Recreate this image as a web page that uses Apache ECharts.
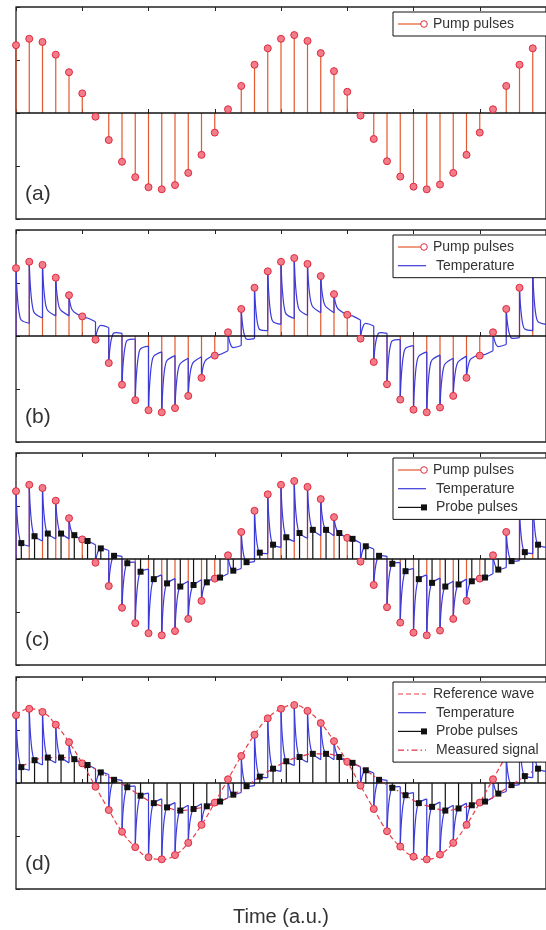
<!DOCTYPE html>
<html>
<head>
<meta charset="utf-8">
<script src="https://cdn.jsdelivr.net/npm/echarts@6/dist/echarts.min.js"></script>
<style>
  html, body { margin: 0; padding: 0; background: #fff; }
  #chart { width: 546px; height: 930px; }
</style>
</head>
<body>
<div id="chart"></div>
<script>
// pump pulse heights, one per period n = 0..39
const pumpVals = [1.28, 1.40, 1.34, 1.10, 0.77, 0.37, -0.07, -0.51, -0.92, -1.21,
  -1.40, -1.44, -1.36, -1.13, -0.79, -0.37, 0.07, 0.51, 0.91, 1.22,
  1.40, 1.47, 1.36, 1.13, 0.79, 0.40, -0.05, -0.49, -0.91, -1.20,
  -1.39, -1.44, -1.35, -1.13, -0.79, -0.37, 0.07, 0.51, 0.91, 1.22]
// probe pulse heights (temperature sampled probeDelay after each pump)
const probeDelay = 0.4
const probeVals = [0.30, 0.43, 0.48, 0.48, 0.45, 0.34, 0.20, 0.06, -0.08, -0.24,
  -0.38, -0.46, -0.52, -0.49, -0.44, -0.35, -0.22, -0.06, 0.12, 0.27,
  0.41, 0.49, 0.55, 0.55, 0.49, 0.38, 0.24, 0.06, -0.09, -0.23,
  -0.38, -0.45, -0.52, -0.48, -0.42, -0.35, -0.20, -0.04, 0.13, 0.27]
// temperature just before each pump (n = 0..40)
const tempBefore = [0, 0.24, 0.34, 0.38, 0.38, 0.36, 0.27, 0.16, 0.05, -0.06,
  -0.19, -0.30, -0.37, -0.42, -0.39, -0.35, -0.28, -0.18, -0.05, 0.10,
  0.22, 0.33, 0.39, 0.44, 0.44, 0.39, 0.30, 0.19, 0.05, -0.07,
  -0.18, -0.30, -0.36, -0.42, -0.38, -0.34, -0.28, -0.16, -0.03, 0.10, 0.22]
// temperature during the fast decay after each pump, at 0.06, 0.15 and 0.25 periods
const tempA = [0.92, 1.04, 1.02, 0.87, 0.65, 0.36, 0.03, -0.30, -0.61, -0.85,
  -1.02, -1.08, -1.05, -0.89, -0.66, -0.36, -0.04, 0.30, 0.62, 0.87,
  1.03, 1.11, 1.06, 0.92, 0.68, 0.39, 0.06, -0.29, -0.61, -0.84,
  -1.02, -1.07, -1.04, -0.89, -0.65, -0.36, -0.03, 0.31, 0.62, 0.87]
const tempB = [0.61, 0.74, 0.76, 0.68, 0.55, 0.35, 0.11, -0.12, -0.35, -0.55,
  -0.71, -0.77, -0.79, -0.69, -0.55, -0.36, -0.13, 0.12, 0.37, 0.57,
  0.73, 0.80, 0.81, 0.74, 0.59, 0.39, 0.15, -0.12, -0.35, -0.54,
  -0.70, -0.77, -0.79, -0.69, -0.54, -0.36, -0.11, 0.14, 0.38, 0.57]
const tempC = [0.42, 0.55, 0.58, 0.55, 0.49, 0.34, 0.17, -0.01, -0.18, -0.36,
  -0.50, -0.58, -0.62, -0.57, -0.48, -0.35, -0.19, 0.01, 0.21, 0.38,
  0.53, 0.61, 0.65, 0.62, 0.53, 0.38, 0.21, -0.01, -0.19, -0.35,
  -0.50, -0.57, -0.62, -0.56, -0.46, -0.35, -0.17, 0.03, 0.22, 0.38]
const decayAt = [0, 0.06, 0.15, 0.25, probeDelay, 1]
const panelNames = ['(a)', '(b)', '(c)', '(d)']

const pumpColor = '#e4582e'
const dotFill = '#f27c8a'
const dotLine = '#e02a3c'
const tempColor = '#3a3ad8'
const probeColor = '#111'
const refColor = '#e8404a'

const panelTops = [7, 230, 453, 677]
const panelH = 212
const font = '"Liberation Sans", Arial, sans-serif'

const pumpPts = pumpVals.map((v, n) => [n, v])
const probePts = probeVals.map((v, n) => [n + probeDelay, v])
const tempData = pumpVals.map((p, n) =>
  [n, tempBefore[n], p, tempA[n], tempB[n], tempC[n], probeVals[n], tempBefore[n + 1]])

const zeroLine = {
  silent: true, symbol: 'none', label: {show: false},
  lineStyle: {color: '#111', width: 1.5, type: 'solid'},
  data: [{yAxis: 0}]
}

function stems(i, data, color, z) {
  return {
    type: 'custom', xAxisIndex: 2 * i, yAxisIndex: i, z: z, clip: true,
    data: data, encode: {x: 0, y: 1},
    renderItem: (params, api) => {
      const a = api.coord([api.value(0), 0])
      const b = api.coord([api.value(0), api.value(1)])
      return {type: 'line', shape: {x1: a[0], y1: a[1], x2: b[0], y2: b[1]},
        style: {stroke: color, lineWidth: 1.2}}
    }
  }
}

function temperature(i) {
  return {
    type: 'custom', xAxisIndex: 2 * i, yAxisIndex: i, z: 3, clip: true,
    data: tempData, encode: {x: 0, y: 2},
    renderItem: (params, api) => {
      const n = api.value(0)
      const pts = decayAt.map((d, k) => api.coord([n + d, api.value(2 + k)]))
      const from = api.coord([n, api.value(1)])
      return {type: 'group', children: [
        {type: 'line', shape: {x1: from[0], y1: from[1], x2: pts[0][0], y2: pts[0][1]},
          style: {stroke: tempColor, lineWidth: 1.2}},
        {type: 'polyline', shape: {points: pts, smooth: 0.35},
          style: {stroke: tempColor, lineWidth: 1.2, fill: null}}
      ]}
    }
  }
}

function pumpDots(i) {
  return {
    type: 'scatter', xAxisIndex: 2 * i, yAxisIndex: i, z: 6,
    data: pumpPts, symbol: 'circle', symbolSize: 7,
    itemStyle: {color: dotFill, borderColor: dotLine, borderWidth: 1, opacity: 1},
    markLine: zeroLine
  }
}

function probeDots(i) {
  return {
    type: 'scatter', xAxisIndex: 2 * i, yAxisIndex: i, z: 7,
    data: probePts, symbol: 'rect', symbolSize: 6,
    itemStyle: {color: probeColor, opacity: 1}
  }
}

const series = [
  stems(0, pumpPts, pumpColor, 2), pumpDots(0),
  stems(1, pumpPts, pumpColor, 2), temperature(1), pumpDots(1),
  stems(2, pumpPts, pumpColor, 2), temperature(2), stems(2, probePts, probeColor, 4),
  pumpDots(2), probeDots(2),
  temperature(3), stems(3, probePts, probeColor, 4), probeDots(3),
  {
    name: 'Reference wave', type: 'line', xAxisIndex: 6, yAxisIndex: 3, z: 5,
    data: pumpPts, smooth: 0.5, symbol: 'circle', symbolSize: 7, showSymbol: true,
    lineStyle: {color: refColor, width: 1.2, type: [5, 3]},
    itemStyle: {color: dotFill, borderColor: dotLine, borderWidth: 1},
    markLine: zeroLine
  },
  {
    name: 'Measured signal', type: 'line', xAxisIndex: 6, yAxisIndex: 3, z: 5,
    data: probePts, smooth: 0.5, symbol: 'none',
    lineStyle: {color: '#e0304a', width: 1.2, type: [6, 3, 1.5, 3]}
  }
]

const grids = panelTops.map(t => ({
  left: 16, top: t, width: 536, height: panelH,
  show: true, borderColor: '#222', borderWidth: 1.3
}))

const xAxes = []
panelTops.forEach((t, i) => {
  ['bottom', 'top'].forEach(pos => {
    xAxes.push({
      type: 'value', gridIndex: i, position: pos, min: 0, max: 40, interval: 5,
      axisLine: {show: false}, axisLabel: {show: false}, splitLine: {show: false},
      axisTick: {inside: true, length: 4, lineStyle: {color: '#222'}},
      name: (i === 3 && pos === 'bottom') ? 'Time (a.u.)' : '',
      nameLocation: 'middle', nameGap: 18,
      nameTextStyle: {fontSize: 20, color: '#333', fontFamily: font}
    })
  })
})

const yAxes = panelTops.map((t, i) => ({
  type: 'value', gridIndex: i, min: -2, max: 2, interval: 1,
  axisLine: {show: false}, axisLabel: {show: false}, splitLine: {show: false},
  axisTick: {inside: true, length: 4, lineStyle: {color: '#222'}}
}))

// legend boxes drawn as graphics, one per panel
const legendRows = [
  [['Pump pulses', 'pump']],
  [['Pump pulses', 'pump'], ['Temperature', 'temp']],
  [['Pump pulses', 'pump'], ['Temperature', 'temp'], ['Probe pulses', 'probe']],
  [['Reference wave', 'ref'], ['Temperature', 'temp'], ['Probe pulses', 'probe'], ['Measured signal', 'meas']]
]
const graphic = []
panelTops.forEach((t, i) => {
  const rows = legendRows[i]
  const boxTop = t + 5
  graphic.push({type: 'rect', z: 100,
    shape: {x: 393, y: boxTop, width: 170, height: 24 + 18.7 * (rows.length - 1)},
    style: {fill: '#fff', stroke: '#111', lineWidth: 1}})
  rows.forEach(([label, kind], k) => {
    const y = boxTop + 12 + 18.7 * k
    const lineStyle = {
      pump: {stroke: pumpColor, lineWidth: 1.2},
      temp: {stroke: tempColor, lineWidth: 1.2},
      probe: {stroke: probeColor, lineWidth: 1.2},
      ref: {stroke: refColor, lineWidth: 1.2, lineDash: [5, 3]},
      meas: {stroke: '#e0304a', lineWidth: 1.2, lineDash: [6, 3, 1.5, 3]}
    }[kind]
    const end = (kind === 'pump' || kind === 'probe') ? 421 : 426
    graphic.push({type: 'line', z: 101, shape: {x1: 398, y1: y, x2: end, y2: y}, style: lineStyle})
    if (kind === 'pump') {
      graphic.push({type: 'circle', z: 102, shape: {cx: 424, cy: y, r: 3.3},
        style: {fill: '#fff', stroke: dotLine, lineWidth: 1}})
    }
    if (kind === 'probe') {
      graphic.push({type: 'rect', z: 102, shape: {x: 421, y: y - 3, width: 6, height: 6},
        style: {fill: probeColor}})
    }
    graphic.push({type: 'text', z: 102, x: (kind === 'pump' || kind === 'ref') ? 433 : 436, y: y,
      style: {text: label, fill: '#333', font: '14px ' + font, verticalAlign: 'middle'}})
  })
  graphic.push({type: 'text', z: 102, x: 25, y: t + 187,
    style: {text: panelNames[i], fill: '#333', font: '21px ' + font, verticalAlign: 'middle'}})
})

const chart = echarts.init(document.getElementById('chart'))
chart.setOption({
  animation: false,
  backgroundColor: '#fff',
  grid: grids,
  xAxis: xAxes,
  yAxis: yAxes,
  series: series,
  graphic: graphic
})
</script>
</body>
</html>
